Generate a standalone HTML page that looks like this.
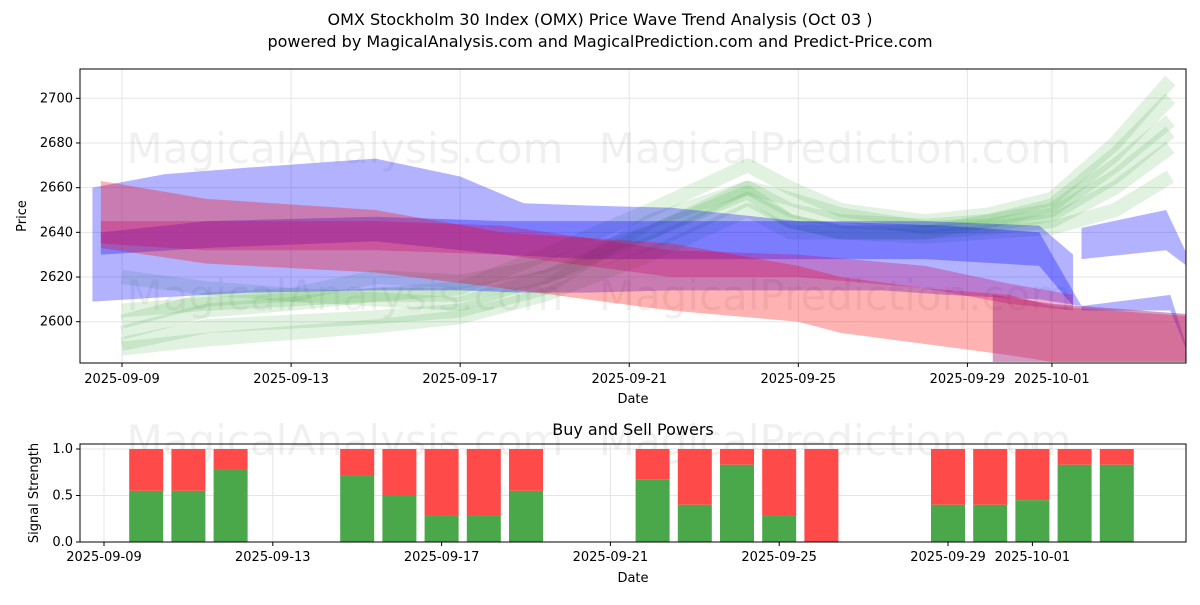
<!DOCTYPE html>
<html><head><meta charset="utf-8"><style>
body{margin:0;background:#fff;}
svg text{font-family:"DejaVu Sans","Liberation Sans",sans-serif;}
</style></head><body>
<svg id="c" width="1200" height="600" viewBox="0 0 1200 600">
<rect width="1200" height="600" fill="#fff"/>
<text x="600" y="25" text-anchor="middle" font-size="16">OMX Stockholm 30 Index (OMX) Price Wave Trend Analysis (Oct 03 )</text>
<text x="600" y="47" text-anchor="middle" font-size="16">powered by MagicalAnalysis.com and MagicalPrediction.com and Predict-Price.com</text>
<g id="topPanel"></g>
<g id="botPanel"></g>
</svg>
<script>
// ---- data ----
const priceTicks=[2600,2620,2640,2660,2680,2700];
const dateTickLabels=["2025-09-09","2025-09-13","2025-09-17","2025-09-21","2025-09-25","2025-09-29","2025-10-01"];
const dateTickDays=[1,5,9,13,17,21,23]; // days after 2025-09-08
const blueBandDays=[0.3,2,4,7,9,10.5,12,14,17,19,20.5,22.7,23.7];
const blueBandHi=[2660,2666,2669,2673,2665,2653,2652,2651,2645,2644,2643,2640,2607];
const blueBandLo=[2609,2611,2613,2614,2614,2613,2613,2614,2614,2614,2612,2610,2607];
const blue2Days=[0.5,3,7,10,12,14,17,20,22.7,23.5];
const blue2Hi=[2640,2645,2647,2645,2645,2645,2645,2645,2643,2630];
const blue2Lo=[2630,2633,2636,2630,2628,2628,2628,2628,2625,2607];
const blue3Days=[23.7,25.7,26.4];
const blue3Hi=[2642,2650,2622];
const blue3Lo=[2628,2632,2622];
const blue4Days=[23.7,25.8,26.3];
const blue4Hi=[2607,2612,2582];
const blue4Lo=[2605,2605,2582];
const redDays=[0.5,3,7,10,14,17,18,20,22,23,26.5];
const redHi=[2663,2655,2650,2640,2635,2625,2620,2615,2612,2607,2602];
const redLo=[2633,2626,2622,2615,2605,2600,2595,2590,2585,2582,2582];
const purpleDays=[0.5,3,7,10,14,17,20,22,23.5];
const purpleHi=[2645,2645,2645,2643,2632,2630,2625,2617,2612];
const purpleLo=[2635,2632,2632,2630,2620,2620,2615,2608,2605];
const purple2Days=[21.6,23,26.5];
const purple2Hi=[2612,2608,2603];
const purple2Lo=[2582,2582,2582];
const greenDays=[1,3,5,7,9,11,13.5,15.8,16.8,18,20,21.5,23,24.5,25.8];
const green1=[2595,2605,2608,2612,2615,2630,2650,2670,2660,2650,2645,2648,2655,2680,2708];
const green2=[2600,2610,2612,2620,2618,2625,2640,2660,2650,2645,2643,2645,2652,2675,2700];
const green3=[2620,2615,2612,2610,2608,2620,2635,2655,2645,2640,2640,2645,2650,2670,2690];
const green4=[2590,2598,2600,2602,2605,2615,2645,2660,2655,2648,2642,2643,2648,2665,2685];
const green5=[2588,2592,2595,2598,2602,2612,2630,2650,2640,2640,2640,2642,2645,2660,2678];
const green6=[2605,2608,2610,2612,2612,2620,2640,2658,2645,2640,2638,2640,2642,2650,2665];
const signalDays=[2,3,4,7,8,9,10,11,14,15,16,17,18,21,22,23,24,25];
const buyPower=[0.55,0.55,0.78,0.72,0.5,0.28,0.28,0.55,0.67,0.4,0.83,0.28,0,0.4,0.4,0.45,0.83,0.83];
const signalTicks=[0,0.5,1.0];
const signalTickLabels=["0.0","0.5","1.0"];
// ---- axes ----
const NS="http://www.w3.org/2000/svg";
function mk(p,t,a){const e=document.createElementNS(NS,t);for(const k in a)e.setAttribute(k,a[k]);p.appendChild(e);return e;}
const T={l:80,r:1186,t:69,b:363};
const xT=d=>122+(d-1)*42.27;
const yT=v=>321.7-(v-2600)*2.234;
const B={l:80,r:1186,t:444,b:542};
const xB=d=>104+(d-1)*42.2;
const yB=v=>542-v*93;
const topG=document.getElementById('topPanel'),botG=document.getElementById('botPanel');
priceTicks.forEach(v=>{const g=mk(topG,'line',{x1:T.l,x2:T.r,y1:yT(v),y2:yT(v),stroke:'#e5e5e5'});});
dateTickDays.forEach(d=>{const g=mk(topG,'line',{x1:xT(d),x2:xT(d),y1:T.t,y2:T.b,stroke:'#e5e5e5'});});
[[345,163],[835,163],[345,310],[835,310]].forEach((p,i)=>{const w=mk(topG,'text',{x:p[0],y:p[1],'text-anchor':'middle','font-size':42,fill:'#000','fill-opacity':0.06});w.textContent=i%2?'MagicalPrediction.com':'MagicalAnalysis.com';});
const clip=mk(topG,'clipPath',{id:'cp'});mk(clip,'rect',{x:T.l,y:T.t,width:T.r-T.l,height:T.b-T.t});
const gz=mk(topG,'g',{'clip-path':'url(#cp)'});
function bandC(days,hi,lo,fill,op,name){let pts=days.map((d,i)=>xT(d)+','+yT(hi[i]));for(let i=days.length-1;i>=0;i--)pts.push(xT(days[i])+','+yT(lo[i]));const e=mk(gz,'polygon',{points:pts.join(' '),fill:fill,'fill-opacity':op});}
[green1,green2,green3,green4,green5,green6].forEach((s,k)=>{const e=mk(gz,'polyline',{points:greenDays.map((d,i)=>xT(d)+','+yT(s[i])).join(' '),fill:'none',stroke:'#2ca02c','stroke-opacity':0.14,'stroke-width':14,'stroke-linejoin':'round'});});
bandC(blueBandDays,blueBandHi,blueBandLo,'#0000ff',0.3,'blue-wave-band');
bandC(blue2Days,blue2Hi,blue2Lo,'#0000ff',0.3,'blue-wave-core');
bandC(blue3Days,blue3Hi,blue3Lo,'#0000ff',0.3,'blue-wave-tail');
bandC(blue4Days,blue4Hi,blue4Lo,'#0000ff',0.3,'blue-wave-tail-low');
bandC(redDays,redHi,redLo,'#ff0000',0.3,'red-wave-band');
bandC(purpleDays,purpleHi,purpleLo,'#cc0066',0.3,'red-wave-core');
bandC(purple2Days,purple2Hi,purple2Lo,'#a0207a',0.45,'red-wave-core-low');
const f=mk(topG,'rect',{x:T.l,y:T.t,width:T.r-T.l,height:T.b-T.t,fill:'none',stroke:'#000'});
priceTicks.forEach(v=>{mk(topG,'line',{x1:T.l-4,x2:T.l,y1:yT(v),y2:yT(v),stroke:'#000'});const t=mk(topG,'text',{x:T.l-7,y:yT(v)+4,'text-anchor':'end','font-size':13});t.textContent=v;});
dateTickDays.forEach((d,i)=>{mk(topG,'line',{x1:xT(d),x2:xT(d),y1:T.b,y2:T.b+4,stroke:'#000'});const t=mk(topG,'text',{x:xT(d),y:T.b+20,'text-anchor':'middle','font-size':13});t.textContent=dateTickLabels[i];});
let t1=mk(topG,'text',{x:633,y:403,'text-anchor':'middle','font-size':13});t1.textContent='Date';
let t2=mk(topG,'text',{x:26,y:216,'text-anchor':'middle','font-size':13,transform:'rotate(-90 26 216)'});t2.textContent='Price';
let bt=mk(botG,'text',{x:633,y:435,'text-anchor':'middle','font-size':16});bt.textContent='Buy and Sell Powers';
signalTicks.forEach(v=>{const g=mk(botG,'line',{x1:B.l,x2:B.r,y1:yB(v),y2:yB(v),stroke:'#e5e5e5'});});
dateTickDays.forEach(d=>{const g=mk(botG,'line',{x1:xB(d),x2:xB(d),y1:B.t,y2:B.b,stroke:'#e5e5e5'});});
[[345,455],[835,455]].forEach((p,i)=>{const w=mk(botG,'text',{x:p[0],y:p[1],'text-anchor':'middle','font-size':42,fill:'#000','fill-opacity':0.06});w.textContent=i?'MagicalPrediction.com':'MagicalAnalysis.com';});
signalDays.forEach((d,i)=>{const x=xB(d)-17,b=buyPower[i];
 const r=mk(botG,'rect',{x:x,y:yB(1),width:34,height:yB(b)-yB(1),fill:'#ff4a4a'});
 const g=mk(botG,'rect',{x:x,y:yB(b),width:34,height:yB(0)-yB(b),fill:'#4aa84a'});});
const f2=mk(botG,'rect',{x:B.l,y:B.t,width:B.r-B.l,height:B.b-B.t,fill:'none',stroke:'#000'});
signalTicks.forEach((v,i)=>{mk(botG,'line',{x1:B.l-4,x2:B.l,y1:yB(v),y2:yB(v),stroke:'#000'});const t=mk(botG,'text',{x:B.l-7,y:yB(v)+4,'text-anchor':'end','font-size':13});t.textContent=signalTickLabels[i];});
dateTickDays.forEach((d,i)=>{mk(botG,'line',{x1:xB(d),x2:xB(d),y1:B.b,y2:B.b+4,stroke:'#000'});const t=mk(botG,'text',{x:xB(d),y:B.b+19,'text-anchor':'middle','font-size':13});t.textContent=dateTickLabels[i];});
let t3=mk(botG,'text',{x:633,y:582,'text-anchor':'middle','font-size':13});t3.textContent='Date';
let t4=mk(botG,'text',{x:38,y:493,'text-anchor':'middle','font-size':13,transform:'rotate(-90 38 493)'});t4.textContent='Signal Strength';
</script>
</body></html>
